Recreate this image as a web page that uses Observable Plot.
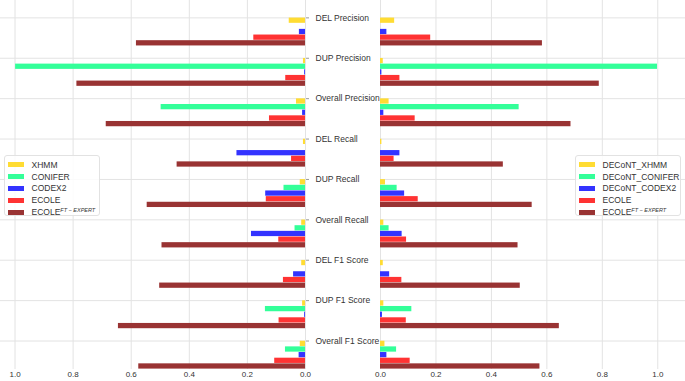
<!DOCTYPE html>
<html>
<head>
<meta charset="utf-8">
<script src="https://cdn.jsdelivr.net/npm/d3@7"></script>
<script src="https://cdn.jsdelivr.net/npm/@observablehq/plot@0.6"></script>
<style>
  html, body { margin: 0; padding: 0; background: #fff; }
  #wrap { position: relative; width: 685px; height: 381px; overflow: hidden; font-family: "Liberation Sans", Arial, sans-serif; }
  #left, #right { position: absolute; top: 0; }
  #left { left: 0; }
  #right { left: 380px; }
  .legend { position: absolute; background: rgba(255,255,255,0.85); border: 1px solid #e2e2e2; border-radius: 3px; box-sizing: border-box; padding: 3px 0 0 3px; font-size: 8.5px; color: #333; }
  .legend .row { display: flex; align-items: center; height: 11.8px; white-space: nowrap; }
  .legend .sw { width: 16px; height: 5px; margin-right: 7.5px; flex: none; }
  .legend sup { font-size: 5.5px; font-style: italic; vertical-align: 3px; line-height: 0; }
</style>
</head>
<body>
<div id="wrap">
  <div id="left"></div>
  <div id="right"></div>
  <div id="legL" class="legend" style="left:4px; top:155px; width:96px; height:61px;"></div>
  <div id="legR" class="legend" style="left:575px; top:155px; width:106px; height:61px;"></div>
</div>
<script>
// ---- data ----
const categories = ["DEL Precision", "DUP Precision", "Overall Precision",
  "DEL Recall", "DUP Recall", "Overall Recall",
  "DEL F1 Score", "DUP F1 Score", "Overall F1 Score"];

const xAxisTicks = [0, 0.2, 0.4, 0.6, 0.8, 1.0];

// left panel (baseline callers)
const leftNames = ["XHMM", "CONIFER", "CODEX2", "ECOLE", "ECOLE"];
const xhmm      = [0.056, 0.007, 0.031, 0.007, 0.018, 0.013, 0.013, 0.010, 0.018];
const conifer   = [0.000, 0.998, 0.497, 0.000, 0.074, 0.036, 0.000, 0.138, 0.069];
const codex2    = [0.021, 0.003, 0.010, 0.236, 0.137, 0.186, 0.041, 0.003, 0.022];
const ecoleL    = [0.178, 0.068, 0.124, 0.048, 0.135, 0.092, 0.076, 0.091, 0.106];
const ecoleFtL  = [0.582, 0.787, 0.686, 0.442, 0.545, 0.494, 0.502, 0.644, 0.574];

// right panel (DECoNT-corrected callers)
const rightNames   = ["DECoNT_XHMM", "DECoNT_CONIFER", "DECoNT_CODEX2", "ECOLE", "ECOLE"];
const decontXhmm    = [0.051, 0.010, 0.031, 0.005, 0.018, 0.012, 0.010, 0.012, 0.016];
const decontConifer = [0.000, 0.999, 0.500, 0.000, 0.060, 0.031, 0.000, 0.113, 0.058];
const decontCodex2  = [0.023, 0.005, 0.012, 0.070, 0.087, 0.078, 0.033, 0.007, 0.023];
const ecoleR        = [0.181, 0.070, 0.125, 0.049, 0.136, 0.094, 0.077, 0.093, 0.107];
const ecoleFtR      = [0.584, 0.789, 0.687, 0.443, 0.547, 0.496, 0.504, 0.645, 0.575];

const seriesColors = ["#ffdc33", "#33ff99", "#3333ff", "#ff3333", "#993333"];
const superscripts = ["", "", "", "", "FT − EXPERT"];

// ---- build tables ----
const barStep = 0.14;
function table(seriesList) {
  const rows = [];
  seriesList.forEach((vals, k) => {
    vals.forEach((v, i) => {
      rows.push({cat: i, k, v, color: seriesColors[k],
        y1: i + k * barStep, y2: i + (k + 1) * barStep});
    });
  });
  return rows;
}
const leftData = table([xhmm, conifer, codex2, ecoleL, ecoleFtL]);
const rightData = table([decontXhmm, decontConifer, decontCodex2, ecoleR, ecoleFtR]);
const catIdx = categories.map((_, i) => i);

const H = 381;
const yScale = {domain: [-0.43, 8.705], reverse: true, axis: null};
const style = {fontFamily: "'Liberation Sans', Arial, sans-serif", fontSize: "8.5px", color: "#333", background: "transparent", overflow: "visible"};
const gridColor = "#e3e3e3";

function marks(data) {
  return [
    Plot.gridX(xAxisTicks, {stroke: gridColor, strokeOpacity: 1, strokeWidth: 1}),
    Plot.gridY(catIdx, {stroke: gridColor, strokeOpacity: 1, strokeWidth: 1}),
    Plot.rect(data, {x1: 0, x2: "v", y1: "y1", y2: "y2", fill: "color", insetTop: 0.2, insetBottom: 0.2}),
    Plot.axisX(xAxisTicks, {anchor: "bottom", tickSize: 0, tickPadding: 2, tickFormat: d3.format(".1f"), fontSize: "8px", label: null})
  ];
}

const left = Plot.plot({
  width: 380, height: H,
  marginLeft: 0, marginRight: 75, marginTop: 0, marginBottom: 12,
  style,
  x: {domain: [0, 1.05], reverse: true},
  y: yScale,
  color: {type: "identity"},
  marks: [
    ...marks(leftData),
    Plot.axisY(catIdx, {anchor: "right", tickSize: 3, tickPadding: 7, stroke: "#999",
      tickFormat: i => categories[i], fontSize: "8.5px", label: null})
  ]
});
document.getElementById("left").appendChild(left);

const right = Plot.plot({
  width: 305, height: H,
  marginLeft: 0, marginRight: 0, marginTop: 0, marginBottom: 12,
  style,
  x: {domain: [0, 1.1]},
  y: yScale,
  color: {type: "identity"},
  marks: marks(rightData)
});
document.getElementById("right").appendChild(right);

function legend(el, names) {
  names.forEach((n, k) => {
    const row = document.createElement("div");
    row.className = "row";
    row.innerHTML = `<span class="sw" style="background:${seriesColors[k]}"></span><span>${n}${superscripts[k] ? `<sup>${superscripts[k]}</sup>` : ""}</span>`;
    el.appendChild(row);
  });
}
legend(document.getElementById("legL"), leftNames);
legend(document.getElementById("legR"), rightNames);
</script>
</body>
</html>
